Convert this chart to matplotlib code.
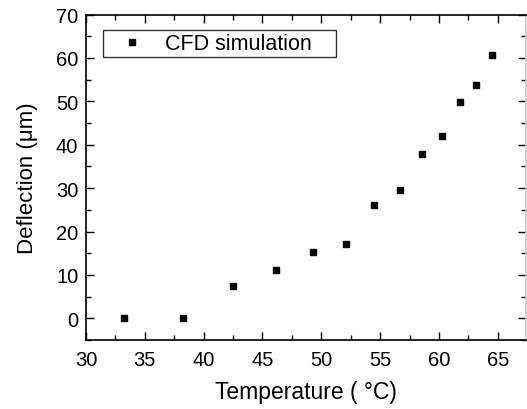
import matplotlib
matplotlib.use("Agg")
import matplotlib.pyplot as plt
from matplotlib.ticker import MultipleLocator

temperature = [33.25, 38.23, 42.48, 46.19, 49.3, 52.13, 54.48, 56.66, 58.58, 60.25, 61.78, 63.17, 64.47]
deflection = [0.0, 0.0, 7.4, 11.2, 15.2, 17.2, 26.1, 29.6, 37.9, 41.9, 49.8, 53.8, 60.7]
series_label = "CFD simulation"
x_label = "Temperature ( °C)"
y_label = "Deflection (μm)"

plt.rcParams['font.family'] = ['Liberation Sans', 'DejaVu Sans']

fig = plt.figure(figsize=(5.27, 4.10), dpi=100)
ax_w = 526 - 86
ax_h = 341 - 15.5
ax = fig.add_axes([86/527, 1-341/410, ax_w/527, ax_h/410])

ax.plot(temperature, deflection, linestyle='none', marker='s', markersize=5,
        color='black', label=series_label)

ax.set_xlim(30, 67.4)
ax.set_ylim(-5, 70)
ax.xaxis.set_major_locator(MultipleLocator(5))
ax.xaxis.set_minor_locator(MultipleLocator(2.5))
ax.yaxis.set_major_locator(MultipleLocator(10))
ax.yaxis.set_minor_locator(MultipleLocator(5))
ax.tick_params(which='both', direction='in', top=True, right=True, labelsize=14.5, width=1)
ax.tick_params(which='major', length=6)
ax.tick_params(which='minor', length=3.5)
ax.tick_params(axis='x', which='major', pad=7)
ax.tick_params(axis='y', which='major', pad=5.5)
for s in ax.spines.values():
    s.set_linewidth(1.2)
ax.spines['right'].set_color('#cccccc')

ax.set_xlabel(x_label, fontsize=16.5, labelpad=8)
ax.set_ylabel(y_label, fontsize=16, labelpad=13)

# legend box in reference: x 103..336, y 31..57 (pixels)
bx0 = (103 - 86) / ax_w
bw = (336 - 103) / ax_w
by0 = (341 - 57) / ax_h
bh = (57 - 31) / ax_h
leg = ax.legend(loc='upper left', bbox_to_anchor=(bx0, by0, bw, bh), mode='expand',
                fontsize=15.5, frameon=True, fancybox=False, edgecolor='black',
                markerscale=0.8, handlelength=2.4, handletextpad=0.35,
                borderpad=0.15, borderaxespad=0)
leg.get_frame().set_linewidth(1.0)

fig.savefig("out.png", dpi=100)
